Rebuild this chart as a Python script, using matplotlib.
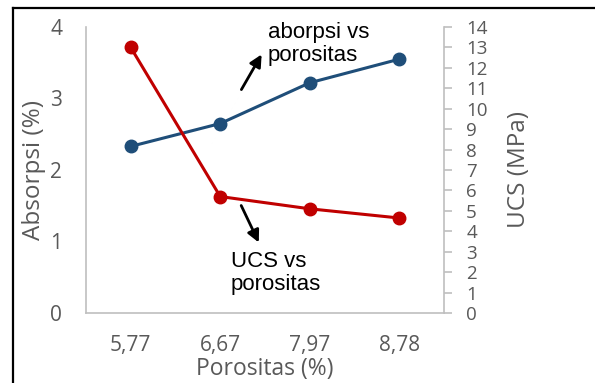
import matplotlib
matplotlib.use('Agg')
from matplotlib import pyplot as plt
from matplotlib.lines import Line2D

# data
porositas = ['5,77', '6,67', '7,97', '8,78']
absorpsi = [2.33, 2.65, 3.22, 3.55]
ucs = [13.0, 5.7, 5.1, 4.65]

blue = '#1F4E79'
red = '#C00000'
grey_txt = '#595959'
grey_ax = '#BFBFBF'

plt.rcParams['font.family'] = ['Open Sans', 'DejaVu Sans']

fig = plt.figure(figsize=(5.95, 3.83), dpi=100)
ax = fig.add_axes([0.1445, 0.1828, 0.6017, 0.7467])
ax2 = ax.twinx()

x = range(len(porositas))
ax.plot(x, absorpsi, color=blue, lw=2.2, marker='o', ms=9, zorder=3)
ax2.plot(x, ucs, color=red, lw=2.2, marker='o', ms=9, zorder=3)

ax.set_xlim(-0.5, 3.5)
ax.set_ylim(0, 4)
ax.set_yticks([0, 1, 2, 3, 4])
ax.set_xticks(list(x))
ax.set_xticklabels(porositas)
ax2.set_ylim(0, 14)
ax2.set_yticks(range(15))

for a in (ax, ax2):
    for s in a.spines.values():
        s.set_visible(False)
ax.spines['left'].set_visible(True)
ax.spines['bottom'].set_visible(True)
ax2.spines['right'].set_visible(True)
for s in (ax.spines['left'], ax.spines['bottom'], ax2.spines['right']):
    s.set_color(grey_ax)
    s.set_linewidth(1.2)

ax.tick_params(axis='y', length=0, pad=17, labelsize=15, labelcolor=grey_txt)
ax.tick_params(axis='x', length=0, pad=16, labelsize=15, labelcolor=grey_txt)
ax2.tick_params(axis='y', length=6, width=1.2, color=grey_ax, pad=10,
                labelsize=13.5, labelcolor=grey_txt)

ax.set_ylabel('Absorpsi (%)', fontsize=17.5, color=grey_txt)
ax.yaxis.set_label_coords(-0.112, 0.5)
ax2.set_ylabel('UCS (MPa)', fontsize=17.5, color=grey_txt)
ax2.yaxis.set_label_coords(1.176, 0.5)
ax.set_xlabel('Porositas (%)', fontsize=16.5, color=grey_txt)
ax.xaxis.set_label_coords(0.5, -0.155)

# series notes with arrows
H = 383
ax.annotate('', xy=(263, H - 52), xytext=(240, H - 92), xycoords='figure pixels',
            textcoords='figure pixels',
            arrowprops=dict(arrowstyle='-|>', color='black', lw=2, mutation_scale=18))
ax.annotate('', xy=(260, H - 245), xytext=(240, H - 203), xycoords='figure pixels',
            textcoords='figure pixels',
            arrowprops=dict(arrowstyle='-|>', color='black', lw=2, mutation_scale=18))
fig.text(268 / 595, 1 - 22 / H, 'aborpsi vs\nporositas', family='Liberation Sans',
         fontsize=16, va='top', ha='left', linespacing=1.1)
fig.text(231 / 595, 1 - 251 / H, 'UCS vs\nporositas', family='Liberation Sans',
         fontsize=16, va='top', ha='left', linespacing=1.1)

# outer frame
fig.add_artist(Line2D([13 / 595, 1], [1 - 8 / H, 1 - 8 / H], color='black', lw=1.6,
                      transform=fig.transFigure))
fig.add_artist(Line2D([13 / 595, 13 / 595], [0, 1 - 8 / H], color='black', lw=1.6,
                      transform=fig.transFigure))

fig.savefig('out.png', dpi=100)
